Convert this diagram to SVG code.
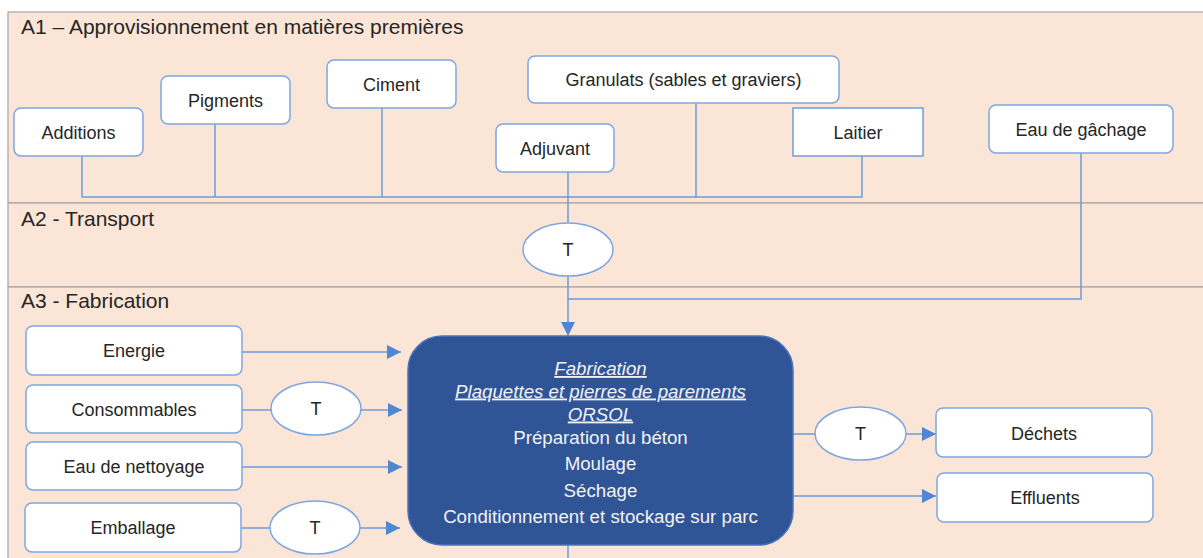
<svg xmlns="http://www.w3.org/2000/svg" width="1203" height="558" viewBox="0 0 1203 558">
  <defs>
    <marker id="arr" viewBox="0 0 10 10" refX="10" refY="5" markerWidth="14" markerHeight="14" markerUnits="userSpaceOnUse" orient="auto">
      <path d="M0,0 L10,5 L0,10 z" fill="#4F87D3"/>
    </marker>
    <style>
      .lane { fill: #FBE5D6; stroke: #A6A6A6; stroke-width: 1.2; }
      .title { font-family: "Liberation Sans", Arial, sans-serif; font-size: 21px; fill: #262626; }
      .box { fill: #FFFFFF; stroke: #7EA6DF; stroke-width: 1.5; }
      .sq { fill: #FFFFFF; stroke: #5B8FD9; stroke-width: 1.3; }
      .lbl { font-family: "Liberation Sans", Arial, sans-serif; font-size: 18px; fill: #262626; text-anchor: middle; }
      .conn { fill: none; stroke: #6E9BDB; stroke-width: 1.5; }
      .main { fill: #2F5597; stroke: #4A74BE; stroke-width: 1.5; }
      .mt { font-family: "Liberation Sans", Arial, sans-serif; font-size: 18.7px; fill: #F2F2F2; text-anchor: middle; }
      .mi { font-style: italic; text-decoration: underline; }
    </style>
  </defs>

  <rect x="0" y="0" width="1203" height="558" fill="#FFFFFF"/>

  <g id="lanes">
    <rect class="lane" x="8" y="12" width="1200" height="191"/>
    <rect class="lane" x="8" y="203" width="1200" height="84"/>
    <rect class="lane" x="8" y="287" width="1200" height="280"/>
    <text class="title" x="21" y="34">A1 – Approvisionnement en matières premières</text>
    <text class="title" x="21" y="226">A2 - Transport</text>
    <text class="title" x="21" y="308">A3 - Fabrication</text>
  </g>

  <g id="connectors">
    <polyline class="conn" points="82,156 82,197 862,197 862,156"/>
    <line class="conn" x1="215" y1="124" x2="215" y2="197"/>
    <line class="conn" x1="382" y1="108" x2="382" y2="197"/>
    <line class="conn" x1="696" y1="103" x2="696" y2="197"/>
    <line class="conn" x1="568" y1="172" x2="568" y2="223"/>
    <line class="conn" x1="568" y1="276" x2="568" y2="336" marker-end="url(#arr)"/>
    <polyline class="conn" points="1081,153 1081,299 568,299"/>
    <line class="conn" x1="242" y1="352" x2="401" y2="352" marker-end="url(#arr)"/>
    <line class="conn" x1="242" y1="410" x2="271" y2="410"/>
    <line class="conn" x1="361" y1="410" x2="402" y2="410" marker-end="url(#arr)"/>
    <line class="conn" x1="242" y1="467" x2="402" y2="467" marker-end="url(#arr)"/>
    <line class="conn" x1="241" y1="528" x2="270" y2="528"/>
    <line class="conn" x1="360" y1="528" x2="400" y2="528" marker-end="url(#arr)"/>
    <line class="conn" x1="793" y1="434" x2="815" y2="434"/>
    <line class="conn" x1="906" y1="434" x2="936" y2="434" marker-end="url(#arr)"/>
    <line class="conn" x1="793" y1="496" x2="936" y2="496" marker-end="url(#arr)"/>
    <line class="conn" x1="568" y1="545" x2="568" y2="558"/>
  </g>

  <g id="additions"><rect class="box" x="14" y="108" width="129" height="48" rx="7"/><text class="lbl" x="78.5" y="138.5">Additions</text></g>
  <g id="pigments"><rect class="box" x="161" y="76" width="129" height="48" rx="7"/><text class="lbl" x="225.5" y="106.5">Pigments</text></g>
  <g id="ciment"><rect class="box" x="327" y="60" width="129" height="48" rx="7"/><text class="lbl" x="391.5" y="90.5">Ciment</text></g>
  <g id="granulats"><rect class="box" x="528" y="56" width="311" height="47" rx="7"/><text class="lbl" x="683.5" y="86">Granulats (sables et graviers)</text></g>
  <g id="adjuvant"><rect class="box" x="496" y="124" width="118" height="48" rx="7"/><text class="lbl" x="555" y="154.5">Adjuvant</text></g>
  <g id="laitier"><rect class="sq" x="793" y="108" width="130" height="48"/><text class="lbl" x="858" y="138.5">Laitier</text></g>
  <g id="eau-gachage"><rect class="box" x="989" y="105" width="184" height="48" rx="7"/><text class="lbl" x="1081" y="135.5">Eau de gâchage</text></g>

  <g id="t-transport"><ellipse class="box" cx="568" cy="249.5" rx="45" ry="26.5"/><text class="lbl" x="568" y="256">T</text></g>

  <g id="energie"><rect class="box" x="26" y="326" width="216" height="49" rx="7"/><text class="lbl" x="134" y="357">Energie</text></g>
  <g id="consommables"><rect class="box" x="26" y="385" width="216" height="48" rx="7"/><text class="lbl" x="134" y="415.5">Consommables</text></g>
  <g id="eau-nettoyage"><rect class="box" x="26" y="442" width="216" height="48" rx="7"/><text class="lbl" x="134" y="472.5">Eau de nettoyage</text></g>
  <g id="emballage"><rect class="box" x="25" y="503" width="216" height="49" rx="7"/><text class="lbl" x="133" y="534">Emballage</text></g>
  <g id="t-consommables"><ellipse class="box" cx="316" cy="408.5" rx="45" ry="26.5"/><text class="lbl" x="316" y="415">T</text></g>
  <g id="t-emballage"><ellipse class="box" cx="315" cy="527.5" rx="45" ry="26.5"/><text class="lbl" x="315" y="534">T</text></g>

  <g id="fabrication">
    <rect class="main" x="408" y="336" width="385" height="209" rx="34"/>
    <text class="mt mi" x="600.5" y="375">Fabrication </text>
    <text class="mt mi" x="600.5" y="397.5">Plaquettes et pierres de parements</text>
    <text class="mt mi" x="600.5" y="420.5">ORSOL</text>
    <text class="mt" x="600.5" y="444">Préparation du béton</text>
    <text class="mt" x="600.5" y="470">Moulage</text>
    <text class="mt" x="600.5" y="496.5">Séchage</text>
    <text class="mt" x="600.5" y="522.5">Conditionnement et stockage sur parc</text>
  </g>

  <g id="t-dechets"><ellipse class="box" cx="860.5" cy="433.5" rx="45.5" ry="26.5"/><text class="lbl" x="860.5" y="440">T</text></g>
  <g id="dechets"><rect class="box" x="936" y="408" width="216" height="49" rx="7"/><text class="lbl" x="1044" y="439.5">Déchets</text></g>
  <g id="effluents"><rect class="box" x="937" y="473" width="216" height="49" rx="7"/><text class="lbl" x="1045" y="504">Effluents</text></g>
</svg>
